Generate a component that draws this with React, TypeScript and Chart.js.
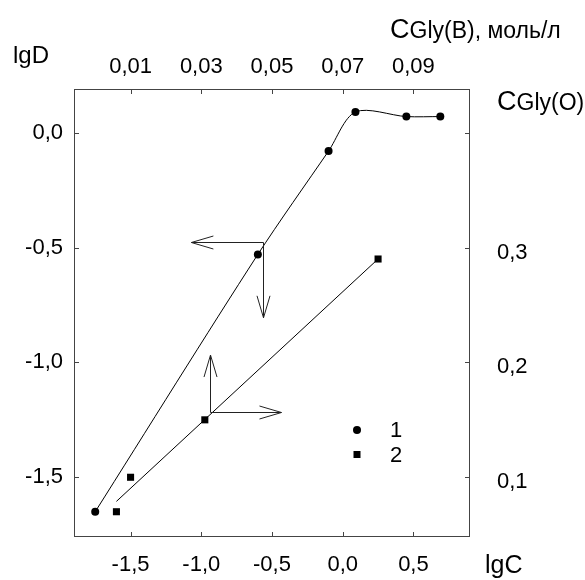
import React, { useEffect, useRef } from 'react';
import { Chart, registerables } from 'chart.js';

Chart.register(...registerables);

// ---- data ----
const SERIES1_LABEL = '1';
const SERIES2_LABEL = '2';
// series 1: lgC (bottom axis) vs lgD (left axis)
const LGC_1 = [-1.75, -0.6, -0.1, 0.09, 0.45, 0.69];
const LGD_1 = [-1.65, -0.53, -0.08, 0.09, 0.07, 0.07];
// series 2: CGly(B) (top axis) vs CGly(O) (right axis)
const CB_2 = [0.006, 0.01, 0.031, 0.08];
const CO_2 = [0.07, 0.1, 0.15, 0.29];
// linear fit of series 2
const FIT2_CB = [0.006, 0.08];
const FIT2_CO = [0.079, 0.29];

// axis ranges
const LGC_RANGE = [-1.9, 0.9];
const LGD_RANGE = [-1.76, 0.19];
const CB_RANGE = [-0.006, 0.106];
const CO_RANGE = [0.048, 0.438];

// ticks
const LGC_TICKS = [-1.5, -1.0, -0.5, 0.0, 0.5];
const LGC_TICK_LABELS = ['-1,5', '-1,0', '-0,5', '0,0', '0,5'];
const LGD_TICKS = [-1.5, -1.0, -0.5, 0.0];
const LGD_TICK_LABELS = ['-1,5', '-1,0', '-0,5', '0,0'];
const CB_TICKS = [0.01, 0.03, 0.05, 0.07, 0.09];
const CB_TICK_LABELS = ['0,01', '0,03', '0,05', '0,07', '0,09'];
const CO_TICKS = [0.1, 0.2, 0.3, 0.4];
const CO_TICK_LABELS = ['0,1', '0,2', '0,3', ''];

// axis titles
const TITLE_LEFT = 'lgD';
const TITLE_BOTTOM = 'lgC';
const TITLE_TOP_BIG = 'C';
const TITLE_TOP_REST = 'Gly(B), моль/л';
const TITLE_RIGHT_BIG = 'C';
const TITLE_RIGHT_REST = 'Gly(O)';

// arrows (in lgC / lgD coordinates): corner, horizontal tip, vertical tip
const ARROW1_CORNER = [-0.564, -0.478];
const ARROW1_TIPS = [-1.07, -0.806];
const ARROW2_CORNER = [-0.941, -1.217];
const ARROW2_TIPS = [-0.433, -0.968];

const FONT = '"Liberation Sans", Arial, sans-serif';
const BORDER = '#444';

const fixedTicks = (values: number[]) => (scale: any) => {
  scale.ticks = values.map((v) => ({ value: v }));
};

const framePlugin = {
  id: 'frame',
  afterDraw(chart: any) {
    const ctx = chart.ctx;
    const { left, right, top, bottom } = chart.chartArea;
    ctx.save();
    ctx.strokeStyle = BORDER;
    ctx.lineWidth = 1;
    ctx.strokeRect(left + 0.5, top + 0.5, right - left - 1, bottom - top - 1);
    // inner ticks
    ctx.beginPath();
    const L = 5;
    const sx = chart.scales.x, sx2 = chart.scales.x2, sy = chart.scales.y, sy2 = chart.scales.y2;
    sx.ticks.forEach((t: any) => {
      const p = Math.round(sx.getPixelForValue(t.value)) + 0.5;
      ctx.moveTo(p, bottom); ctx.lineTo(p, bottom - L);
    });
    sx2.ticks.forEach((t: any) => {
      const p = Math.round(sx2.getPixelForValue(t.value)) + 0.5;
      ctx.moveTo(p, top); ctx.lineTo(p, top + L);
    });
    sy.ticks.forEach((t: any) => {
      const p = Math.round(sy.getPixelForValue(t.value)) + 0.5;
      ctx.moveTo(left, p); ctx.lineTo(left + L, p);
    });
    sy2.ticks.forEach((t: any) => {
      const p = Math.round(sy2.getPixelForValue(t.value)) + 0.5;
      ctx.moveTo(right, p); ctx.lineTo(right - L, p);
    });
    ctx.stroke();

    // arrows
    const drawArrow = (x1: number, y1: number, x2: number, y2: number) => {
      const ang = Math.atan2(y2 - y1, x2 - x1);
      const hl = 22, hw = 6.5;
      ctx.beginPath();
      ctx.moveTo(x1, y1); ctx.lineTo(x2, y2);
      const bx = x2 - hl * Math.cos(ang), by = y2 - hl * Math.sin(ang);
      const nx = -Math.sin(ang) * hw, ny = Math.cos(ang) * hw;
      ctx.moveTo(bx + nx, by + ny); ctx.lineTo(x2, y2); ctx.lineTo(bx - nx, by - ny);
      ctx.stroke();
    };
    ctx.strokeStyle = '#222';
    const a1x = Math.round(sx.getPixelForValue(ARROW1_CORNER[0])) + 0.5;
    const a1y = Math.round(sy.getPixelForValue(ARROW1_CORNER[1])) + 0.5;
    drawArrow(a1x, a1y, sx.getPixelForValue(ARROW1_TIPS[0]), a1y);
    drawArrow(a1x, a1y, a1x, sy.getPixelForValue(ARROW1_TIPS[1]));
    const a2x = Math.round(sx.getPixelForValue(ARROW2_CORNER[0])) + 0.5;
    const a2y = Math.round(sy.getPixelForValue(ARROW2_CORNER[1])) + 0.5;
    drawArrow(a2x, a2y, sx.getPixelForValue(ARROW2_TIPS[0]), a2y);
    drawArrow(a2x, a2y, a2x, sy.getPixelForValue(ARROW2_TIPS[1]));

    // titles
    ctx.fillStyle = '#000';
    ctx.textAlign = 'left';
    ctx.textBaseline = 'alphabetic';
    ctx.font = `24px ${FONT}`;
    ctx.fillText(TITLE_LEFT, left - 61, top - 26);
    ctx.font = `25px ${FONT}`;
    ctx.fillText(TITLE_BOTTOM, right + 15, bottom + 36);
    const two = (x: number, y: number, big: string, rest: string) => {
      ctx.font = `27px ${FONT}`;
      ctx.fillText(big, x, y);
      const w = ctx.measureText(big).width;
      ctx.font = `23px ${FONT}`;
      ctx.fillText(rest, x + w, y);
    };
    two(right - 80, top - 51, TITLE_TOP_BIG, TITLE_TOP_REST);
    two(right + 27, top + 21, TITLE_RIGHT_BIG, TITLE_RIGHT_REST);

    // legend
    const lx = left + 283, ly = top + 341, gap = 24.5;
    chart.data.datasets.forEach((ds: any) => {
      if (!ds.legend) return;
      const yy = ly + ds.legendRow * gap;
      ctx.fillStyle = '#000';
      if (ds.pointStyle === 'rect') {
        ctx.fillRect(lx - 3.5, yy - 3.5, 7, 7);
      } else {
        ctx.beginPath(); ctx.arc(lx, yy, 4, 0, Math.PI * 2); ctx.fill();
      }
      ctx.font = `22px ${FONT}`;
      ctx.textBaseline = 'middle';
      ctx.textAlign = 'center';
      ctx.fillText(ds.label, lx + 39, yy + 1);
    });
    ctx.restore();
  },
};

export default function App() {
  const ref = useRef<HTMLCanvasElement | null>(null);
  useEffect(() => {
    if (!ref.current) return;
    const tickFont = { family: FONT, size: 22 };
    const chart = new Chart(ref.current, {
      type: 'scatter',
      data: {
        datasets: [
          {
            label: SERIES1_LABEL,
            data: LGC_1.map((x, i) => ({ x, y: LGD_1[i] })),
            showLine: true,
            tension: 0.3,
            borderColor: '#000',
            borderWidth: 1,
            pointRadius: 4,
            pointBackgroundColor: '#000',
            pointBorderWidth: 0,
            pointStyle: 'circle',
            xAxisID: 'x',
            yAxisID: 'y',
            legend: true,
            legendRow: 0,
          } as any,
          {
            label: 'fit',
            data: FIT2_CB.map((x, i) => ({ x, y: FIT2_CO[i] })),
            showLine: true,
            tension: 0,
            borderColor: '#000',
            borderWidth: 1,
            pointRadius: 0,
            xAxisID: 'x2',
            yAxisID: 'y2',
          },
          {
            label: SERIES2_LABEL,
            data: CB_2.map((x, i) => ({ x, y: CO_2[i] })),
            showLine: false,
            pointStyle: 'rect',
            pointRadius: 5,
            pointBackgroundColor: '#000',
            pointBorderWidth: 0,
            xAxisID: 'x2',
            yAxisID: 'y2',
            legend: true,
            legendRow: 1,
          } as any,
        ],
      },
      options: {
        responsive: false,
        animation: false,
        events: [],
        layout: { padding: 0 },
        plugins: { legend: { display: false }, tooltip: { enabled: false }, title: { display: false } },
        scales: {
          x: {
            type: 'linear',
            position: 'bottom',
            min: LGC_RANGE[0],
            max: LGC_RANGE[1],
            afterBuildTicks: fixedTicks(LGC_TICKS),
            afterFit: (s: any) => { s.height = 43; },
            grid: { display: false, drawTicks: false },
            border: { display: false },
            ticks: {
              font: tickFont, color: '#000', padding: 15, maxRotation: 0, autoSkip: false,
              callback: (_v: any, i: number) => LGC_TICK_LABELS[i],
            },
          },
          x2: {
            type: 'linear',
            position: 'top',
            min: CB_RANGE[0],
            max: CB_RANGE[1],
            afterBuildTicks: fixedTicks(CB_TICKS),
            afterFit: (s: any) => { s.height = 89; },
            grid: { display: false, drawTicks: false },
            border: { display: false },
            ticks: {
              font: tickFont, color: '#000', padding: 9, maxRotation: 0, autoSkip: false,
              callback: (_v: any, i: number) => CB_TICK_LABELS[i],
            },
          },
          y: {
            type: 'linear',
            position: 'left',
            min: LGD_RANGE[0],
            max: LGD_RANGE[1],
            afterBuildTicks: fixedTicks(LGD_TICKS),
            afterFit: (s: any) => { s.width = 74; },
            grid: { display: false, drawTicks: false },
            border: { display: false },
            ticks: {
              font: tickFont, color: '#000', padding: 11, autoSkip: false,
              callback: (_v: any, i: number) => LGD_TICK_LABELS[i],
            },
          },
          y2: {
            type: 'linear',
            position: 'right',
            min: CO_RANGE[0],
            max: CO_RANGE[1],
            afterBuildTicks: fixedTicks(CO_TICKS),
            afterFit: (s: any) => { s.width = 115; },
            grid: { display: false, drawTicks: false },
            border: { display: false },
            ticks: {
              font: tickFont, color: '#000', padding: 27, autoSkip: false, labelOffset: 5,
              callback: (_v: any, i: number) => CO_TICK_LABELS[i],
            },
          },
        },
      } as any,
      plugins: [framePlugin],
    });
    return () => chart.destroy();
  }, []);
  return (
    <div style={{ position: 'fixed', left: 0, top: 0, width: 585, height: 580, background: '#fff' }}>
      <canvas ref={ref} width={585} height={580} style={{ display: 'block' }} />
    </div>
  );
}
